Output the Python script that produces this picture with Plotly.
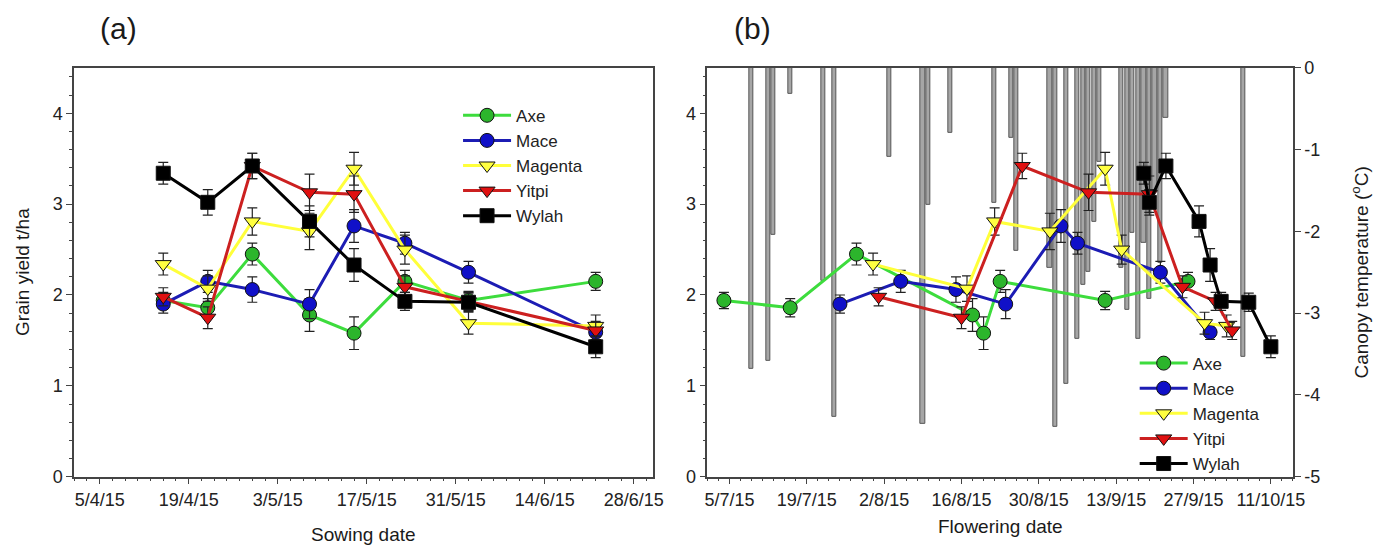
import plotly.graph_objects as go

# ---------------- data ----------------
cultivars = ["Axe", "Mace", "Magenta", "Yitpi", "Wylah"]

sowing_dates = ["2015-04-15", "2015-04-22", "2015-04-29", "2015-05-08",
                "2015-05-15", "2015-05-23", "2015-06-02", "2015-06-22"]

yield_axe = [1.94, 1.86, 2.45, 1.78, 1.58, 2.15, 1.94, 2.15]
yield_mace = [1.90, 2.15, 2.06, 1.90, 2.76, 2.57, 2.25, 1.59]
yield_magenta = [2.34, 2.07, 2.81, 2.70, 3.39, 2.50, 1.69, 1.66]
yield_yitpi = [1.98, 1.75, 3.42, 3.13, 3.11, 2.09, 1.93, 1.61]
yield_wylah = [3.34, 3.02, 3.42, 2.81, 2.33, 1.93, 1.92, 1.43]

err_axe = [0.09, 0.10, 0.12, 0.18, 0.18, 0.12, 0.10, 0.10]
err_mace = [0.10, 0.12, 0.14, 0.16, 0.18, 0.12, 0.12, 0.08]
err_magenta = [0.12, 0.14, 0.15, 0.20, 0.18, 0.16, 0.12, 0.12]
err_yitpi = [0.10, 0.12, 0.14, 0.20, 0.20, 0.12, 0.10, 0.10]
err_wylah = [0.12, 0.14, 0.14, 0.17, 0.18, 0.10, 0.10, 0.12]

flower_axe = ["2015-07-04", "2015-07-16", "2015-07-28", "2015-08-18",
              "2015-08-20", "2015-08-23", "2015-09-11", "2015-09-26"]
flower_mace = ["2015-07-25", "2015-08-05", "2015-08-15", "2015-08-24",
               "2015-09-03", "2015-09-06", "2015-09-21", "2015-09-30"]
flower_magenta = ["2015-07-31", "2015-08-17", "2015-08-22", "2015-09-01",
                  "2015-09-11", "2015-09-14", "2015-09-29", "2015-10-03"]
flower_yitpi = ["2015-08-01", "2015-08-16", "2015-08-27", "2015-09-08",
                "2015-09-19", "2015-09-25", "2015-10-01", "2015-10-04"]
flower_wylah = ["2015-09-18", "2015-09-19", "2015-09-22", "2015-09-28",
                "2015-09-30", "2015-10-02", "2015-10-07", "2015-10-11"]

# minimum canopy temperature events (deg C)
temp_dates = ["2015-07-09", "2015-07-12", "2015-07-13", "2015-07-16", "2015-07-22",
              "2015-07-24", "2015-08-03", "2015-08-09", "2015-08-10", "2015-08-14",
              "2015-08-22", "2015-08-25", "2015-08-26", "2015-09-01", "2015-09-02",
              "2015-09-04", "2015-09-06", "2015-09-07", "2015-09-08", "2015-09-09",
              "2015-09-10", "2015-09-14", "2015-09-15", "2015-09-16", "2015-09-17",
              "2015-09-18", "2015-09-19", "2015-09-20", "2015-09-21", "2015-09-22",
              "2015-10-06"]
temp_values = [-3.68, -3.58, -2.04, -0.32, -2.61,
               -4.27, -1.09, -4.35, -1.68, -0.80,
               -1.65, -0.85, -2.24, -2.45, -4.39,
               -3.86, -3.32, -2.65, -2.49, -1.88,
               -1.15, -2.45, -2.96, -2.02, -3.32,
               -2.14, -2.82, -1.51, -2.38, -0.61,
               -3.53]

x_ticks_a = ["2015-04-05"]
x_ticks_b = ["2015-07-05"]
right_tickvals = [0, -1, -2, -3, -4, -5]
right_ticktext = ["0", "-1", "-2", "-3", "-4", "-5"]

# ---------------- styling ----------------
W, H = 1394, 560
DAY = 86400000
FONT = "Liberation Sans, Arial, sans-serif"

styles = {
    "Axe": dict(line="#3ddc3d", fill="#2cb52c", symbol="circle"),
    "Mace": dict(line="#1c1cb4", fill="#1010c8", symbol="circle"),
    "Magenta": dict(line="#ffff3a", fill="#ffff40", symbol="triangle-down"),
    "Yitpi": dict(line="#cc2020", fill="#e01010", symbol="triangle-down"),
    "Wylah": dict(line="#000000", fill="#000000", symbol="square"),
}
yields = dict(Axe=yield_axe, Mace=yield_mace, Magenta=yield_magenta,
              Yitpi=yield_yitpi, Wylah=yield_wylah)
errs = dict(Axe=err_axe, Mace=err_mace, Magenta=err_magenta,
            Yitpi=err_yitpi, Wylah=err_wylah)
flowers = dict(Axe=flower_axe, Mace=flower_mace, Magenta=flower_magenta,
               Yitpi=flower_yitpi, Wylah=flower_wylah)


def px_x(p):
    return p / W


def px_y(p):
    return 1 - p / H


fig = go.Figure()

# temperature bars (panel b, base axis y2)
fig.add_trace(go.Bar(
    x=temp_dates, y=temp_values, width=0.75 * DAY,
    marker=dict(color="#a6a6a6", line=dict(color="#555555", width=1)),
    xaxis="x2", yaxis="y2", showlegend=False, hoverinfo="skip"))


def add_series(name, xs, xa, ya, legend):
    s = styles[name]
    fig.add_trace(go.Scatter(
        x=xs, y=yields[name], name=name, mode="lines+markers",
        line=dict(color=s["line"], width=3),
        marker=dict(symbol=s["symbol"], size=14, color=s["fill"],
                    line=dict(color="#111111", width=1)),
        error_y=dict(type="data", array=errs[name], color="#222222",
                     thickness=1.2, width=5),
        xaxis=xa, yaxis=ya, legend=legend))


for c in cultivars:
    add_series(c, sowing_dates, "x", "y", "legend")
for c in cultivars:
    add_series(c, flowers[c], "x2", "y3", "legend2")

axis_line = dict(showline=True, linecolor="#444444", linewidth=1.5,
                 showgrid=False, zeroline=False,
                 tickfont=dict(family=FONT, size=18, color="#222222"),
                 ticks="outside", ticklen=6, tickcolor="#444444")

ydom = [px_y(484), px_y(60)]


def ann(text, x, y, size, angle=0):
    return dict(text=text, x=px_x(x), y=px_y(y), xref="paper", yref="paper",
                xanchor="center", yanchor="middle", textangle=angle,
                showarrow=False, font=dict(family=FONT, size=size, color="#1a1a1a"))


fig.update_layout(
    width=W, height=H,
    margin=dict(l=0, r=0, t=0, b=0),
    paper_bgcolor="white", plot_bgcolor="white",
    font=dict(family=FONT, color="#222222"),
    bargap=0,
    xaxis=dict(domain=[px_x(72), px_x(657)], anchor="y", type="date",
               range=["2015-04-01", "2015-07-01"], tickformat="%-d/%-m/%y",
               tick0=x_ticks_a[0], dtick=14 * DAY, mirror=True,
               minor=dict(dtick=2 * DAY, tick0=x_ticks_a[0], ticklen=3,
                          ticks="outside", tickcolor="#444444"),
               **axis_line),
    yaxis=dict(domain=ydom, anchor="x", range=[0, 4.5], tick0=0, dtick=1,
               mirror=True,
               minor=dict(dtick=0.2, ticklen=3, ticks="outside", tickcolor="#444444"),
               **axis_line),
    xaxis2=dict(domain=[px_x(712), px_x(1304)], anchor="y2", type="date",
                range=["2015-07-01", "2015-10-15"], tickformat="%-d/%-m/%y",
                tick0=x_ticks_b[0], dtick=14 * DAY, mirror=True,
                minor=dict(dtick=2 * DAY, tick0=x_ticks_b[0], ticklen=3,
                           ticks="outside", tickcolor="#444444"),
                **axis_line),
    yaxis2=dict(domain=ydom, anchor="x2", side="right", range=[-5, 0],
                tickvals=right_tickvals, ticktext=right_ticktext,
                **axis_line),
    yaxis3=dict(overlaying="y2", anchor="x2", side="left", range=[0, 4.5],
                tick0=0, dtick=1,
                minor=dict(dtick=0.2, ticklen=3, ticks="outside", tickcolor="#444444"),
                **axis_line),
    legend=dict(x=px_x(460), y=px_y(91), xanchor="left", yanchor="top",
                bgcolor="rgba(0,0,0,0)", font=dict(family=FONT, size=17, color="#222222"),
                itemwidth=48, tracegroupgap=0),
    legend2=dict(x=px_x(1144), y=px_y(348), xanchor="left", yanchor="top",
                 bgcolor="rgba(0,0,0,0)", font=dict(family=FONT, size=17, color="#222222"),
                 itemwidth=48, tracegroupgap=0),
    annotations=[
        ann("(a)", 117, 19, 30),
        ann("(b)", 758, 19, 30),
        ann("Grain yield t/ha", 19, 272, 19, -90),
        ann("Sowing date", 364, 544, 19),
        ann("Flowering date", 1008, 536, 19),
        ann("Canopy temperature (<sup>o</sup>C)", 1372, 272, 19, -90),
    ],
)

fig.write_html("out.html", config={"displayModeBar": False},
               post_script="document.body.style.margin='0';")
